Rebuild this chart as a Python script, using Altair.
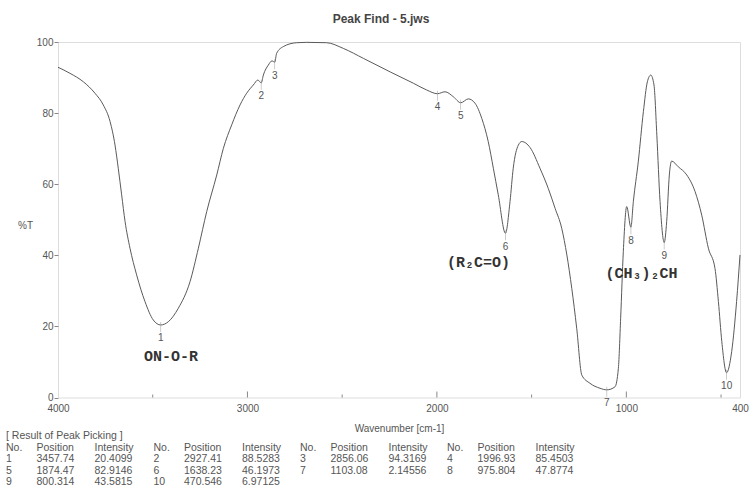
import altair as alt
import pandas as pd

# ---- spectrum trace ----
wavenumber = [4000, 3937, 3866, 3805, 3761, 3725, 3699, 3682, 3664, 3646, 3620, 3585,
              3541, 3497, 3458, 3418, 3365, 3303, 3259, 3215, 3162, 3127, 3083, 3039,
              3004, 2969, 2945, 2927, 2916, 2890, 2870, 2856, 2846, 2811, 2740, 2687,
              2582, 2494, 2388, 2247, 2124, 2054, 1997, 1957, 1913, 1874, 1834, 1799,
              1763, 1729, 1702, 1676, 1638, 1614, 1597, 1570, 1552, 1508, 1456, 1412,
              1376, 1341, 1314, 1288, 1262, 1235, 1192, 1139, 1103, 1060, 1042, 1030,
              1016, 998, 976, 963, 937, 910, 889, 871, 854, 839, 822, 800, 787, 773,
              761, 726, 681, 637, 602, 567, 532, 514, 496, 471, 444, 418, 400]
transmittance = [92.9, 91.2, 88.8, 85.6, 82.3, 77.6, 71.0, 64.5, 57.0, 49.5, 42.0, 34.5,
                 27.0, 21.8, 20.4, 21.3, 25.1, 32.6, 42.0, 52.3, 62.6, 70.1, 76.7, 82.3,
                 85.6, 87.9, 89.3, 88.5, 90.7, 93.5, 94.7, 94.3, 96.8, 98.7, 99.8, 99.9,
                 99.8, 98.2, 95.4, 91.6, 88.4, 86.5, 85.45, 86.0, 84.6, 82.9, 84.0, 82.8,
                 78.5, 72.0, 64.5, 57.0, 46.2, 55.1, 64.5, 71.0, 72.0, 70.3, 64.5, 58.8,
                 53.2, 47.6, 40.1, 30.7, 19.5, 6.3, 4.0, 2.6, 2.15, 3.0, 8.2, 22.3,
                 41.0, 53.7, 47.9, 55.1, 66.3, 80.4, 88.8, 90.7, 87.9, 73.8, 55.1, 43.6, 49.5, 62.6,
                 66.5, 64.9, 62.6, 57.9, 51.3, 42.0, 36.3, 27.0, 15.7, 6.97, 12.9, 27.0, 40.1]

# ---- peak picking result ----
peak_no = [1, 2, 3, 4, 5, 6, 7, 8, 9, 10]
peak_pos = [3457.74, 2927.41, 2856.06, 1996.93, 1874.47, 1638.23, 1103.08, 975.804, 800.314, 470.546]
peak_int = [20.4099, 88.5283, 94.3169, 85.4503, 82.9146, 46.1973, 2.14556, 47.8774, 43.5815, 6.97125]

# ---- functional group annotations ----
group_text = ["ON-O-R", "(R\u2082C=O)", "(CH\u2083)\u2082CH"]
group_wn = [3403, 1781, 920]
group_t = [11.8, 38.0, 34.9]

# ---- axis ticks ----
x_label_values = [4000, 3000, 2000, 1000, 400]
x_major_ticks = [3000, 2000, 1000]
x_minor_ticks = [3500, 2500, 1500, 500]
y_tick_values = [0, 10, 20, 30, 40, 50, 60, 70, 80, 90, 100]

# ---- layout ----
W, H = 682, 355.5
PAD_L, PAD_T = 58, 42
SANS = "Liberation Sans, Arial, sans-serif"
MONO = "Courier New, Liberation Mono, monospace"
TXT = "#555555"

spec = pd.DataFrame({"wn": wavenumber, "t": transmittance})
peaks = pd.DataFrame({"no": peak_no, "wn": peak_pos, "t": peak_int})
groups = pd.DataFrame({"label": group_text, "wn": group_wn, "t": group_t})

# table of results, built from the peak arrays
group_left = [6, 153.5, 300, 447]
col_off = [0, 30.5, 88.5]
row_y = [447.5, 459, 470.5, 482]
cells = [{"txt": "[ Result of Peak Picking ]", "px": 6 - PAD_L, "py": 436 - PAD_T}]
for g in range(4):
    for k, h in enumerate(["No.", "Position", "Intensity"]):
        cells.append({"txt": h, "px": group_left[g] + col_off[k] - PAD_L, "py": row_y[0] - PAD_T})
for i in range(len(peak_no)):
    r, g = divmod(i, 4)
    for k, v in enumerate([str(peak_no[i]), str(peak_pos[i]), str(peak_int[i])]):
        cells.append({"txt": v, "px": group_left[g] + col_off[k] - PAD_L, "py": row_y[r + 1] - PAD_T})
table = pd.DataFrame(cells)

xscale = alt.Scale(domain=[400, 4000], reverse=True, nice=False, zero=False)
yscale = alt.Scale(domain=[0, 100], nice=False)

line = alt.Chart(spec).mark_line(interpolate="monotone", color="#5a5a5a", strokeWidth=1).encode(
    x=alt.X("wn:Q", scale=xscale, title="Wavenumber [cm-1]",
            axis=alt.Axis(values=x_label_values, format="d", ticks=False, domain=False, grid=False,
                          labelFlush=False, labelPadding=6, labelFontSize=10, labelFont=SANS,
                          labelColor=TXT, titleFont=SANS, titleFontSize=10, titleFontWeight="normal",
                          titleColor=TXT, titleY=30.5, titleBaseline="middle")),
    y=alt.Y("t:Q", scale=yscale, title="%T",
            axis=alt.Axis(values=y_tick_values, labelExpr="datum.value % 20 == 0 ? datum.label : ''",
                          tickSize=4, tickColor="#888888", domain=False, grid=False,
                          labelPadding=1, labelFontSize=10, labelFont=SANS, labelColor=TXT,
                          titleAngle=0, titleX=-33, titleY=183, titleAlign="center",
                          titleBaseline="middle", titleFont=SANS, titleFontSize=10,
                          titleFontWeight="normal", titleColor=TXT)),
    order=alt.Order("wn:Q", sort="descending"),
)

major = alt.Chart(pd.DataFrame({"wn": x_major_ticks})).mark_rule(color="#888888", strokeWidth=1).encode(
    x=alt.X("wn:Q", scale=xscale), y=alt.value(H), y2=alt.value(H - 6))
minor = alt.Chart(pd.DataFrame({"wn": x_minor_ticks})).mark_rule(color="#888888", strokeWidth=1).encode(
    x=alt.X("wn:Q", scale=xscale), y=alt.value(H), y2=alt.value(H - 3))

peak_ticks = alt.Chart(peaks).mark_tick(orient="vertical", size=10, thickness=0.7,
                                         color="#999999", yOffset=2).encode(
    x=alt.X("wn:Q", scale=xscale), y=alt.Y("t:Q", scale=yscale))
peak_labels = alt.Chart(peaks).mark_text(dy=13.5, fontSize=10, font=SANS, color=TXT,
                                          baseline="middle").encode(
    x=alt.X("wn:Q", scale=xscale), y=alt.Y("t:Q", scale=yscale), text="no:N")

group_labels = alt.Chart(groups).mark_text(fontSize=15, font=MONO, fontWeight="bold",
                                           color="#333333", baseline="middle").encode(
    x=alt.X("wn:Q", scale=xscale), y=alt.Y("t:Q", scale=yscale), text="label:N")

table_text = alt.Chart(table).mark_text(align="left", baseline="middle", fontSize=10.5,
                                        font=SANS, color=TXT).encode(
    x=alt.X("px:Q", scale=None, axis=None), y=alt.Y("py:Q", scale=None, axis=None), text="txt:N")

chart = alt.layer(line, major, minor, peak_ticks, peak_labels, group_labels, table_text).properties(
    width=W, height=H, autosize="none",
    padding={"left": PAD_L, "top": PAD_T, "right": 10, "bottom": 91.5},
    title=alt.TitleParams("Peak Find - 5.jws", anchor="middle", frame="group", dx=-18, offset=11,
                          fontSize=12, font=SANS, fontWeight="bold", color="#444444"),
).configure_view(stroke="#999999", strokeWidth=1).configure(background="white")

chart.save("out.html", embed_options={"renderer": "svg", "actions": False})
